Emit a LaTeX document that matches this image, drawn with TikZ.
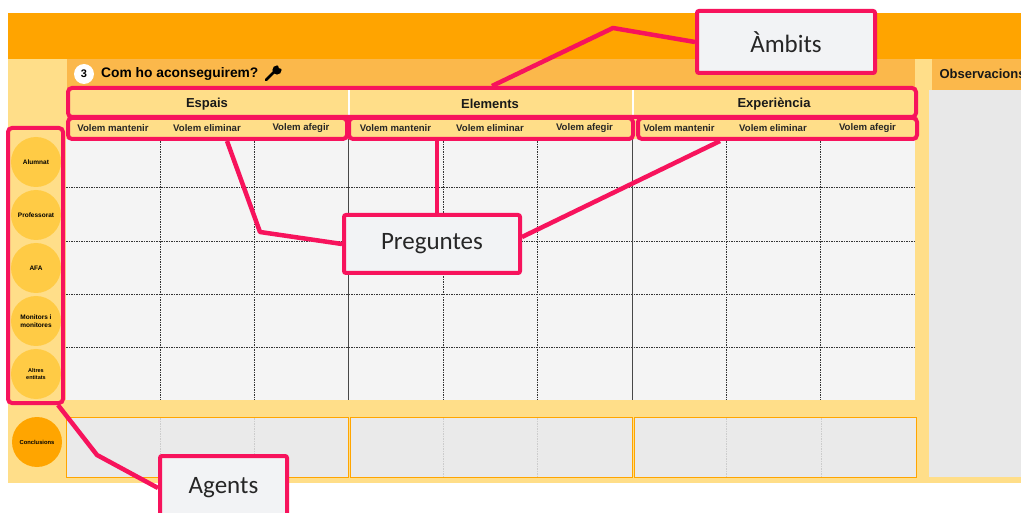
\documentclass[tikz,border=0pt]{standalone}
\usepackage{fontspec}
\setmainfont{Liberation Sans}
\newfontfamily\callfont{Carlito}
\definecolor{topor}{HTML}{FFA400}
\definecolor{lyel}{HTML}{FFDE89}
\definecolor{titleor}{HTML}{FBB84B}
\definecolor{gridbg}{HTML}{F4F4F4}
\definecolor{panel}{HTML}{E8E8E8}
\definecolor{agcirc}{HTML}{FFCB45}
\definecolor{concirc}{HTML}{FFA500}
\definecolor{pinkc}{HTML}{F7135C}
\definecolor{callbg}{HTML}{F2F3F5}
\definecolor{gline}{HTML}{333333}
\begin{document}
\begin{tikzpicture}[x=1pt,y=-1pt,
 hlbox/.style={draw=pinkc, line width=4pt, rounded corners=4pt, inner sep=0pt},
 calbox/.style={draw=pinkc, fill=callbg, line width=4pt, rounded corners=2pt, inner sep=0pt, font=\callfont\fontsize{25}{28}\selectfont, text=black!85},
 conn/.style={draw=pinkc, line width=4.5pt, line join=round},
 agent/.style={circle, fill=agcirc, minimum size=50pt, inner sep=0pt, align=center, font=\bfseries\fontsize{6.5}{7.5}\selectfont},
 hdr/.style={font=\bfseries\fontsize{13}{15}\selectfont, text=black!90},
 subhdr/.style={font=\bfseries\fontsize{9.6}{11}\selectfont, text=black!85},
 gdot/.style={gline, line width=1pt, dash pattern=on 1.5pt off 1pt},
 gsolid/.style={gline!90, line width=1pt},
 cdot/.style={black!20, line width=0.9pt, dash pattern=on 1.5pt off 1pt},
 cbox/.style={draw=concirc, fill=panel!90!white, line width=0.9pt},
]
\useasboundingbox (0,0) rectangle (1021,513);
\fill[white] (0,0) rectangle (1021,513);
% background bands
\fill[topor] (8,13) rectangle (1021,59);
\fill[lyel] (8,59) rectangle (1021,483);
\fill[titleor] (67,59) rectangle (915,88);
\fill[lyel] (67,88) rectangle (915,138);
\draw[white, line width=2pt] (348.5,88) -- (348.5,117);
\draw[white, line width=2pt] (632.5,88) -- (632.5,117);
% observacions
\fill[titleor] (932,59) rectangle (1021,90);
\fill[panel] (929,90) rectangle (1021,477);
\node[hdr, anchor=west] (obs) at (936,74) {Observacions};
% title
\node[circle, fill=white, minimum size=20pt, inner sep=0pt, font=\bfseries\fontsize{11}{12}\selectfont] (num) at (84,74) {3};
\node[anchor=west, inner sep=0pt, font=\bfseries\fontsize{13.8}{15}\selectfont] (title) at (101,74) {Com ho aconseguirem?};
\draw[black, line width=2.6pt, line cap=round] (266,80) -- (274,72);
\fill[black] (277,70) circle (4.6);
\fill[titleor] (280.5,66.5) circle (2.2);
% headers
\node[hdr] (espais) at (207,104) {Espais};
\node[hdr] (elements) at (490,104) {Elements};
\node[hdr] (exper) at (774,104) {Experiència};
\foreach \c in {113,395.5,679}{\node[subhdr] at (\c,128) {Volem mantenir};}
\foreach \c in {207,490,773}{\node[subhdr] at (\c,128) {Volem eliminar};}
\foreach \c in {301,584.5,867.5}{\node[subhdr] at (\c,128) {Volem afegir};}
% grid
\fill[gridbg] (66,139) rectangle (915,400);
\foreach \y in {188,242,295,348}{\draw[gdot] (66,\y) -- (915,\y);}
\foreach \x in {160,254,443,537,726,820}{\draw[gdot] (\x,139) -- (\x,400);}
\foreach \x in {348,632}{\draw[gsolid] (\x,139) -- (\x,400);}
% conclusions row
\draw[cbox] (66,417) rectangle (348,477);
\draw[cbox] (350,417) rectangle (632,477);
\draw[cbox] (634,417) rectangle (916,477);
\foreach \x in {160,254,443,537,726,821}{\draw[cdot] (\x,418) -- (\x,476);}
% agents
\node[agent] (alumnat) at (36,162) {Alumnat};
\node[agent] (prof) at (36,215) {Professorat};
\node[agent] (afa) at (36,268) {AFA};
\node[agent] (monit) at (36,321) {Monitors i\\monitores};
\node[agent, font=\bfseries\fontsize{5.5}{6.5}\selectfont] (altres) at (36,374) {Altres\\entitats};
\node[agent, fill=concirc, font=\bfseries\fontsize{5.8}{7}\selectfont] (concl) at (37,442) {Conclusions};
% pink highlight boxes
\node[hlbox, minimum width=848pt, minimum height=29pt] (hdrbox) at (492,102.5) {};
\node[hlbox, minimum width=279pt, minimum height=21pt] (sub1) at (207.5,128.5) {};
\node[hlbox, minimum width=284pt, minimum height=21pt] (sub2) at (491,128.5) {};
\node[hlbox, minimum width=279pt, minimum height=21pt] (sub3) at (777.5,128.5) {};
\node[hlbox, minimum width=55pt, minimum height=275pt] (agbox) at (35.5,265.5) {};
% callouts
\node[calbox, minimum width=178pt, minimum height=62pt] (ambits) at (786,42) {Àmbits};
\node[calbox, minimum width=176pt, minimum height=58pt] (preg) at (432,244) {Preguntes};
\node[calbox, minimum width=127pt, minimum height=64pt] (agents) at (223.5,488) {Agents};
% connectors
\coordinate (k1) at (613,28);
\coordinate (k2) at (260,232);
\coordinate (k3) at (97,455);
\draw[conn] (hdrbox.north) -- (k1) -- (ambits.west);
\draw[conn] ([xshift=19.5pt]sub1.south) -- (k2) -- (preg.west);
\draw[conn] ([xshift=5pt]preg.north) -- ([xshift=5pt]preg.north |- sub2.south);
\draw[conn] ([xshift=-57.5pt]sub3.south) -- ([yshift=7pt]preg.east);
\draw[conn] ([xshift=22.5pt]agbox.south) -- (k3) -- (agents.west);
\end{tikzpicture}
\end{document}
